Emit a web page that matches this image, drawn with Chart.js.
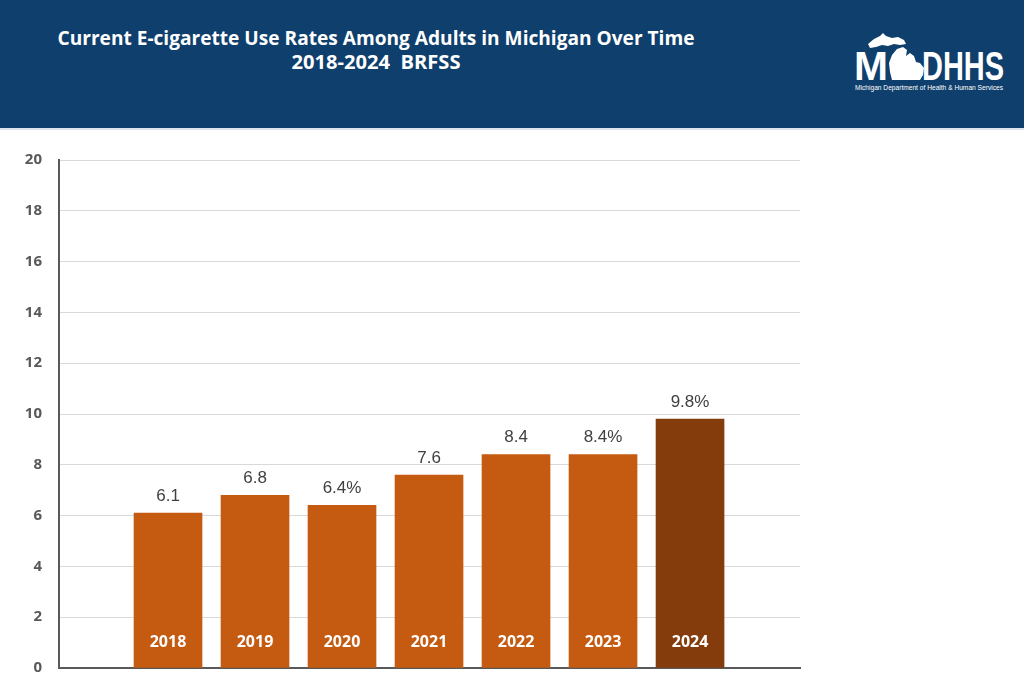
<!DOCTYPE html>
<html>
<head>
<meta charset="utf-8">
<script src="https://cdn.jsdelivr.net/npm/chart.js@4.4.1/dist/chart.umd.min.js"></script>
<style>
  body { margin: 0; width: 1024px; height: 684px; background: #fff; overflow: hidden; position: relative; font-family: "Liberation Sans", Arial, sans-serif; }
  #header { position: absolute; left: 0; top: 0; width: 1024px; height: 128px; background: #0f3f6c; border-bottom: 2px solid #dde4ec; }
  #header svg { position: absolute; left: 0; top: 0; }
  #myChart { position: absolute; left: 0; top: 130px; }
</style>
</head>
<body>
<div id="header">
  <svg width="1024" height="128" xmlns="http://www.w3.org/2000/svg">
    <g fill="#ffffff" font-family="'Open Sans', sans-serif" font-weight="bold" text-anchor="middle">
      <text x="376" y="45" font-size="20" textLength="637" lengthAdjust="spacingAndGlyphs">Current E-cigarette Use Rates Among Adults in Michigan Over Time</text>
      <text x="376" y="69" font-size="20" textLength="169" lengthAdjust="spacingAndGlyphs" xml:space="preserve">2018-2024  BRFSS</text>
    </g>
    <g fill="#ffffff">
      <text x="854" y="80" font-family="'Liberation Sans', sans-serif" font-weight="bold" font-size="41" textLength="34" lengthAdjust="spacingAndGlyphs">M</text>
      <path d="M868 44 L874 39 L880 36 L883 33 L886 36 L892 38 L898 37 L904 40 L906 44 L900 45 L894 44 L888 46 L882 45 L876 47 L870 48 Z"/>
      <path d="M897 49 L903 47 L907 50 L906 56 L910 53 L914 56 L916 62 L920 63 L924 68 L923 75 L920 80 L892 80 L890 72 L889 63 L892 55 Z"/>
      <text x="922" y="80" font-family="'Liberation Sans', sans-serif" font-weight="bold" font-size="41" textLength="82" lengthAdjust="spacingAndGlyphs">DHHS</text>
      <text x="855" y="90" font-family="'Liberation Sans', sans-serif" font-size="6.5" textLength="148" lengthAdjust="spacingAndGlyphs">Michigan Department of Health &amp; Human Services</text>
    </g>
  </svg>
</div>
<canvas id="myChart" width="1024" height="564"></canvas>
<script>
var years = [2018, 2019, 2020, 2021, 2022, 2023, 2024];
var rates = [6.1, 6.8, 6.4, 7.6, 8.4, 8.4, 9.8];
var valueLabels = ["6.1", "6.8", "6.4%", "7.6", "8.4", "8.4%", "9.8%"];
var yTicks = [0, 2, 4, 6, 8, 10, 12, 14, 16, 18, 20];

var barColors = years.map(function (y) {
  return y === 2024 ? "#843c0c" : "#c55a11";
});

var labelPlugin = {
  id: "barLabels",
  afterDatasetsDraw: function (chart) {
    var ctx = chart.ctx;
    var meta = chart.getDatasetMeta(0);
    var yScale = chart.scales.y;
    ctx.save();
    ctx.textAlign = "center";
    ctx.textBaseline = "middle";
    meta.data.forEach(function (bar, i) {
      ctx.fillStyle = "#404040";
      ctx.font = "17px 'Liberation Sans', Arial, sans-serif";
      ctx.fillText(valueLabels[i], bar.x, bar.y - 17);
      ctx.fillStyle = "#ffffff";
      ctx.font = "bold 16px 'Open Sans', sans-serif";
      ctx.fillText(String(years[i]), bar.x, yScale.getPixelForValue(0) - 26);
    });
    ctx.restore();
  }
};

var ctx = document.getElementById("myChart").getContext("2d");
var myChart = new Chart(ctx, {
  type: "bar",
  data: {
    datasets: [
      {
        data: years.map(function (y, i) { return { x: y, y: rates[i] }; }),
        backgroundColor: barColors,
        borderWidth: 0,
        barThickness: 68
      }
    ]
  },
  options: {
    responsive: false,
    animation: false,
    layout: { padding: { top: 30, right: 224, bottom: 17, left: 0 } },
    plugins: { legend: { display: false }, tooltip: { enabled: false } },
    scales: {
      x: {
        type: "linear",
        offset: false,
        min: 2016.747,
        max: 2025.264,
        afterFit: function (scale) { scale.height = 0; },
        grid: { display: false },
        border: { display: true, color: "#595959", width: 2 },
        ticks: { display: false }
      },
      y: {
        min: 0,
        max: 20,
        afterFit: function (scale) { scale.width = 59; },
        afterBuildTicks: function (scale) {
          scale.ticks = yTicks.map(function (v) { return { value: v }; });
        },
        grid: { color: "#d9d9d9", lineWidth: 1, drawTicks: false },
        border: { display: true, color: "#595959", width: 2 },
        ticks: {
          padding: 17,
          color: "#595959",
          font: { family: "'Open Sans', sans-serif", weight: "bold", size: 15 }
        }
      }
    }
  },
  plugins: [labelPlugin]
});
</script>
</body>
</html>
